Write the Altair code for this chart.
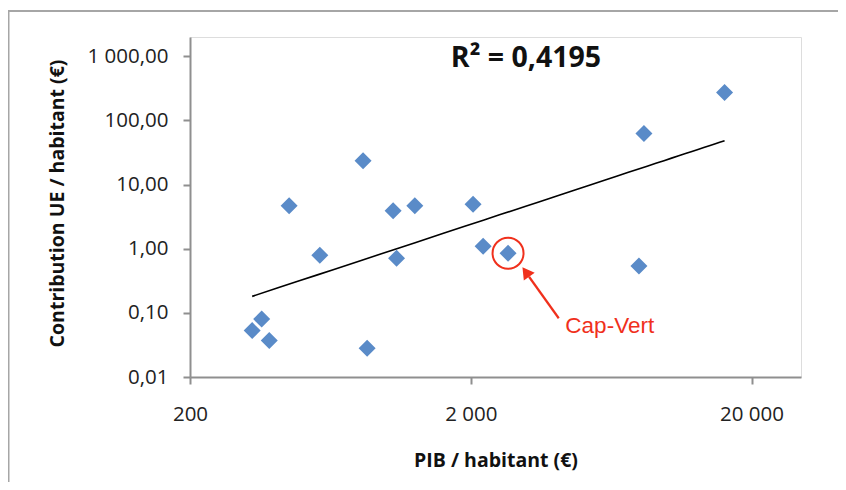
import altair as alt
import pandas as pd

# --- data ---
gdp = [333, 360, 383, 451, 580, 827, 855, 1058, 1088, 1264, 2038, 2213, 2715, 7944, 8274, 16030]
contrib = [0.053, 0.080, 0.037, 4.67, 0.79, 23.5, 0.028, 3.91, 0.71, 4.67, 4.95, 1.09, 0.85, 0.54, 62.5, 272]
labels = [""] * 12 + ["Cap-Vert"] + [""] * 3
r2_text = ["R² = 0,4195"]
x_ticks = [200, 2000, 20000]
y_ticks = [0.01, 0.1, 1, 10, 100, 1000]

df = pd.DataFrame({"gdp": gdp, "contrib": contrib, "label": labels})

W, H = 611, 340
FONT = "Open Sans"
AXIS_GRAY = "#8f8f8f"
BLUE = "#5a8bc8"
RED = "#f0301c"

xscale = alt.Scale(type="log", domain=[200, 30000], nice=False)
yscale = alt.Scale(type="log", domain=[0.01, 2000], nice=False)

common_axis = dict(
    grid=False, domainColor=AXIS_GRAY, domainWidth=2, tickColor=AXIS_GRAY, tickWidth=2,
    tickSize=7, labelFont=FONT, labelFontSize=20.5, labelColor="#222222",
    titleFont=FONT, titleFontSize=19.5, titleFontWeight="bold", titleColor="#111111",
    labelOverlap=False, labelFlush=False,
)

x = alt.X("gdp:Q", scale=xscale, axis=alt.Axis(
    values=x_ticks, title="PIB / habitant (€)",
    labelExpr="replace(format(datum.value, ',d'), ',', ' ')",
    labelBaseline="alphabetic", labelPadding=36,
    titleBaseline="alphabetic", titleY=89, **common_axis))
y = alt.Y("contrib:Q", scale=yscale, axis=alt.Axis(
    values=y_ticks, title="Contribution UE / habitant (€)",
    labelExpr="replace(replace(format(datum.value, ',.2f'), ',', ' '), '.', ',')",
    labelPadding=15, titleAngle=270, titleX=-127, titleY=166,
    titleBaseline="alphabetic", titleAlign="center", **common_axis))

base = alt.Chart(df)

points = base.mark_point(shape="diamond", filled=True, size=289, color=BLUE, opacity=1).encode(x=x, y=y)

trend = base.transform_regression("gdp", "contrib", method="pow").mark_line(
    color="black", strokeWidth=1.6).encode(x=alt.X("gdp:Q", scale=xscale), y=alt.Y("contrib:Q", scale=yscale))

cap = base.transform_filter(alt.datum.label == "Cap-Vert")
circle = cap.mark_point(shape="circle", filled=False, size=960, stroke=RED, strokeWidth=2, opacity=1).encode(
    x="gdp:Q", y="contrib:Q")
arrow_line = cap.mark_rule(color=RED, strokeWidth=2.2, xOffset=21, yOffset=23.5, x2Offset=50.7, y2Offset=65).encode(
    x="gdp:Q", y="contrib:Q", x2=alt.X2("gdp"), y2=alt.Y2("contrib"))
arrow_head = cap.mark_point(shape="triangle-up", filled=True, size=180, color=RED, opacity=1, angle=324,
                            xOffset=17.8, yOffset=18.7).encode(x="gdp:Q", y="contrib:Q")
cap_text = cap.mark_text(font="Liberation Sans", fontSize=22.5, color=RED, align="center",
                         baseline="alphabetic", dx=101.7, dy=79.3).encode(x="gdp:Q", y="contrib:Q", text="label:N")

r2 = alt.Chart(alt.Data(values=[{"t": r2_text[0]}])).mark_text(
    font=FONT, fontSize=28.5, fontWeight="bold", color="#111111", align="center", baseline="alphabetic").encode(
    x=alt.value(336), y=alt.value(30), text="t:N")

frame_data = alt.Data(values=[{}])
frame_top = alt.Chart(frame_data).mark_rect(fill="#a6a6a6", strokeWidth=0).encode(
    x=alt.value(-182.5), x2=alt.value(648), y=alt.value(-27), y2=alt.value(-25))
frame_left = alt.Chart(frame_data).mark_rect(fill="#a6a6a6", strokeWidth=0).encode(
    x=alt.value(-182.5), x2=alt.value(-180.5), y=alt.value(-27), y2=alt.value(445))

chart = alt.layer(frame_top, frame_left, trend, points, circle, arrow_line, arrow_head, cap_text, r2).properties(
    width=W, height=H,
    autosize=alt.AutoSizeParams(type="none"),
    padding={"left": 182, "top": 29, "right": 37, "bottom": 105},
).configure_view(strokeWidth=0).configure(background="white")

chart.save("out.html", embed_options={"renderer": "svg", "actions": False})
